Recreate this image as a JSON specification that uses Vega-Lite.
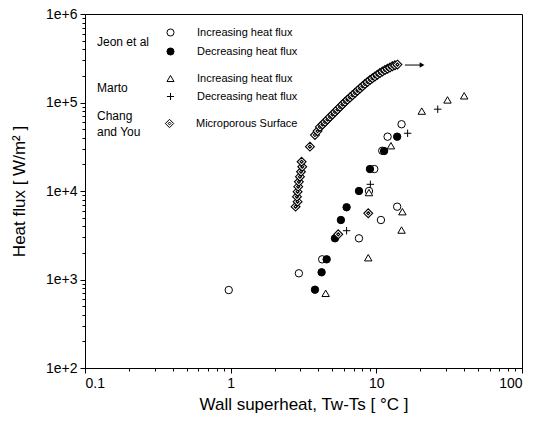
{
  "$schema": "https://vega.github.io/schema/vega-lite/v6.json",
  "width": 437,
  "height": 354,
  "autosize": {"type": "none"},
  "padding": {"left": 85, "top": 14, "right": 15, "bottom": 53},
  "config": {
    "font": "Liberation Sans",
    "view": {"stroke": "black", "strokeWidth": 1},
    "axis": {
      "grid": false,
      "domainColor": "black",
      "tickColor": "black",
      "labelColor": "black",
      "titleColor": "black",
      "labelFont": "Liberation Sans",
      "titleFont": "Liberation Sans",
      "labelFontSize": 14,
      "titleFontSize": 17,
      "titleFontWeight": "normal"
    },
    "legend": {
      "orient": "none",
      "titleOrient": "left",
      "titleAnchor": "middle",
      "titleBaseline": "middle",
      "titleAlign": "left",
      "titleFont": "Liberation Sans",
      "titleFontSize": 12,
      "titleFontWeight": "normal",
      "titleColor": "black",
      "titleLineHeight": 16,
      "labelFont": "Liberation Sans",
      "labelFontSize": 11,
      "labelColor": "black",
      "symbolStrokeColor": "black",
      "symbolStrokeWidth": 1,
      "symbolSize": 50,
      "symbolOpacity": 1,
      "labelOffset": 21,
      "rowPadding": 6,
      "padding": 0
    }
  },
  "datasets": {
    "pts": [
      {"g": "Jeon et al", "s": "Increasing heat flux", "x": 0.97, "y": 760},
      {"g": "Jeon et al", "s": "Increasing heat flux", "x": 2.94, "y": 1175},
      {"g": "Jeon et al", "s": "Increasing heat flux", "x": 4.25, "y": 1690},
      {"g": "Jeon et al", "s": "Increasing heat flux", "x": 7.6, "y": 2920},
      {"g": "Jeon et al", "s": "Increasing heat flux", "x": 10.75, "y": 4700},
      {"g": "Jeon et al", "s": "Increasing heat flux", "x": 13.9, "y": 6650},
      {"g": "Jeon et al", "s": "Increasing heat flux", "x": 8.9, "y": 10000},
      {"g": "Jeon et al", "s": "Increasing heat flux", "x": 9.68, "y": 17700},
      {"g": "Jeon et al", "s": "Increasing heat flux", "x": 10.98, "y": 28500},
      {"g": "Jeon et al", "s": "Increasing heat flux", "x": 11.95, "y": 41100},
      {"g": "Jeon et al", "s": "Increasing heat flux", "x": 14.9, "y": 56800},
      {"g": "Jeon et al", "s": "Decreasing heat flux", "x": 3.79, "y": 767},
      {"g": "Jeon et al", "s": "Decreasing heat flux", "x": 4.21, "y": 1206},
      {"g": "Jeon et al", "s": "Decreasing heat flux", "x": 4.56, "y": 1690},
      {"g": "Jeon et al", "s": "Decreasing heat flux", "x": 5.2, "y": 2920},
      {"g": "Jeon et al", "s": "Decreasing heat flux", "x": 5.71, "y": 4700},
      {"g": "Jeon et al", "s": "Decreasing heat flux", "x": 6.25, "y": 6550},
      {"g": "Jeon et al", "s": "Decreasing heat flux", "x": 7.6, "y": 10000},
      {"g": "Jeon et al", "s": "Decreasing heat flux", "x": 9.04, "y": 17700},
      {"g": "Jeon et al", "s": "Decreasing heat flux", "x": 11.3, "y": 28300},
      {"g": "Jeon et al", "s": "Decreasing heat flux", "x": 13.9, "y": 41100},
      {"g": "Marto", "s": "Increasing heat flux", "x": 4.49, "y": 698},
      {"g": "Marto", "s": "Increasing heat flux", "x": 8.8, "y": 1763},
      {"g": "Marto", "s": "Increasing heat flux", "x": 14.9, "y": 3620},
      {"g": "Marto", "s": "Increasing heat flux", "x": 15.1, "y": 5840},
      {"g": "Marto", "s": "Increasing heat flux", "x": 8.9, "y": 9600},
      {"g": "Marto", "s": "Increasing heat flux", "x": 12.6, "y": 32500},
      {"g": "Marto", "s": "Increasing heat flux", "x": 20.5, "y": 80000},
      {"g": "Marto", "s": "Increasing heat flux", "x": 30.8, "y": 107000},
      {"g": "Marto", "s": "Increasing heat flux", "x": 40.1, "y": 119000},
      {"g": "Marto", "s": "Decreasing heat flux", "x": 6.25, "y": 3560},
      {"g": "Marto", "s": "Decreasing heat flux", "x": 9.1, "y": 11900},
      {"g": "Marto", "s": "Decreasing heat flux", "x": 16.4, "y": 44900},
      {"g": "Marto", "s": "Decreasing heat flux", "x": 26.4, "y": 84000},
      {"g": "Chang and You", "s": "Microporous Surface", "x": 5.48, "y": 3240},
      {"g": "Chang and You", "s": "Microporous Surface", "x": 8.8, "y": 5600},
      {"g": "Chang and You", "s": "Microporous Surface", "x": 2.79, "y": 6650},
      {"g": "Chang and You", "s": "Microporous Surface", "x": 2.88, "y": 7570},
      {"g": "Chang and You", "s": "Microporous Surface", "x": 2.85, "y": 8630},
      {"g": "Chang and You", "s": "Microporous Surface", "x": 2.88, "y": 9820},
      {"g": "Chang and You", "s": "Microporous Surface", "x": 2.91, "y": 11200},
      {"g": "Chang and You", "s": "Microporous Surface", "x": 2.94, "y": 12700},
      {"g": "Chang and You", "s": "Microporous Surface", "x": 2.99, "y": 14500},
      {"g": "Chang and You", "s": "Microporous Surface", "x": 3.04, "y": 16500},
      {"g": "Chang and You", "s": "Microporous Surface", "x": 3.1, "y": 18800},
      {"g": "Chang and You", "s": "Microporous Surface", "x": 3.07, "y": 21400},
      {"g": "Chang and You", "s": "Microporous Surface", "x": 3.5, "y": 31700},
      {"g": "Chang and You", "s": "Microporous Surface", "x": 3.79, "y": 42900},
      {"g": "Chang and You", "s": "Microporous Surface", "x": 3.95, "y": 47500},
      {"g": "Chang and You", "s": "Microporous Surface", "x": 4.1, "y": 52900},
      {"g": "Chang and You", "s": "Microporous Surface", "x": 4.27, "y": 56400},
      {"g": "Chang and You", "s": "Microporous Surface", "x": 4.44, "y": 60200},
      {"g": "Chang and You", "s": "Microporous Surface", "x": 4.62, "y": 64300},
      {"g": "Chang and You", "s": "Microporous Surface", "x": 4.8, "y": 68600},
      {"g": "Chang and You", "s": "Microporous Surface", "x": 5.0, "y": 73200},
      {"g": "Chang and You", "s": "Microporous Surface", "x": 5.2, "y": 78100},
      {"g": "Chang and You", "s": "Microporous Surface", "x": 5.41, "y": 83400},
      {"g": "Chang and You", "s": "Microporous Surface", "x": 5.63, "y": 89000},
      {"g": "Chang and You", "s": "Microporous Surface", "x": 5.85, "y": 94900},
      {"g": "Chang and You", "s": "Microporous Surface", "x": 6.09, "y": 101300},
      {"g": "Chang and You", "s": "Microporous Surface", "x": 6.33, "y": 107400},
      {"g": "Chang and You", "s": "Microporous Surface", "x": 6.59, "y": 113900},
      {"g": "Chang and You", "s": "Microporous Surface", "x": 6.85, "y": 120800},
      {"g": "Chang and You", "s": "Microporous Surface", "x": 7.13, "y": 128000},
      {"g": "Chang and You", "s": "Microporous Surface", "x": 7.42, "y": 135800},
      {"g": "Chang and You", "s": "Microporous Surface", "x": 7.72, "y": 144000},
      {"g": "Chang and You", "s": "Microporous Surface", "x": 8.03, "y": 152600},
      {"g": "Chang and You", "s": "Microporous Surface", "x": 8.35, "y": 161800},
      {"g": "Chang and You", "s": "Microporous Surface", "x": 8.69, "y": 170500},
      {"g": "Chang and You", "s": "Microporous Surface", "x": 9.04, "y": 179600},
      {"g": "Chang and You", "s": "Microporous Surface", "x": 9.4, "y": 187900},
      {"g": "Chang and You", "s": "Microporous Surface", "x": 9.78, "y": 196700},
      {"g": "Chang and You", "s": "Microporous Surface", "x": 10.17, "y": 205900},
      {"g": "Chang and You", "s": "Microporous Surface", "x": 10.58, "y": 215400},
      {"g": "Chang and You", "s": "Microporous Surface", "x": 11.01, "y": 224000},
      {"g": "Chang and You", "s": "Microporous Surface", "x": 11.46, "y": 232900},
      {"g": "Chang and You", "s": "Microporous Surface", "x": 11.92, "y": 240600},
      {"g": "Chang and You", "s": "Microporous Surface", "x": 12.4, "y": 248600},
      {"g": "Chang and You", "s": "Microporous Surface", "x": 12.9, "y": 256800},
      {"g": "Chang and You", "s": "Microporous Surface", "x": 13.42, "y": 263600},
      {"g": "Chang and You", "s": "Microporous Surface", "x": 13.96, "y": 268100}
    ],
    "arrowLine": [{"x": 15.7, "x2": 20.2, "y": 265000}],
    "arrowHead": [{"x": 20.6, "y": 265000}]
  },
  "layer": [
    {
      "data": {"name": "pts"},
      "transform": [{"filter": "datum.g === 'Jeon et al'"}],
      "mark": {"type": "point", "filled": true, "stroke": "black", "strokeWidth": 1, "size": 55, "opacity": 1},
      "encoding": {
        "x": {
          "field": "x", "type": "quantitative",
          "scale": {"type": "log", "domain": [0.1, 100], "nice": false},
          "axis": {"values": [0.1, 1, 10, 100], "format": "~g", "tickSize": 5, "labelPadding": 3, "title": "Wall superheat, Tw-Ts [ °C ]", "titlePadding": 6}
        },
        "y": {
          "field": "y", "type": "quantitative",
          "scale": {"type": "log", "domain": [100, 1000000], "nice": false},
          "axis": {"values": [100, 1000, 10000, 100000, 1000000], "labelExpr": "'1e+' + round(log(datum.value) / LN10)", "tickSize": 5, "labelPadding": 3, "title": "Heat flux [ W/m² ]", "titlePadding": 17}
        },
        "shape": {
          "field": "s", "type": "nominal",
          "scale": {"domain": ["Increasing heat flux", "Decreasing heat flux"], "range": ["circle", "circle"]},
          "legend": {"title": "Jeon et al", "legendX": 12, "legendY": 13, "titlePadding": 15,
            "encode": {"symbols": {"update": {"stroke": {"value": "black"}, "strokeWidth": {"value": 1}, "opacity": {"value": 1}}}}}
        },
        "fill": {
          "field": "s", "type": "nominal",
          "scale": {"domain": ["Increasing heat flux", "Decreasing heat flux"], "range": ["white", "black"]},
          "legend": {"title": "Jeon et al", "legendX": 12, "legendY": 13, "titlePadding": 15,
            "encode": {"symbols": {"update": {"stroke": {"value": "black"}, "strokeWidth": {"value": 1}, "opacity": {"value": 1}}}}}
        }
      }
    },
    {
      "data": {"name": "pts"},
      "transform": [{"filter": "datum.g === 'Marto'"}],
      "mark": {"type": "point", "filled": true, "stroke": "black", "strokeWidth": 1, "size": 55, "opacity": 1},
      "encoding": {
        "x": {"field": "x", "type": "quantitative", "scale": {"type": "log", "domain": [0.1, 100], "nice": false}, "axis": null},
        "y": {"field": "y", "type": "quantitative", "scale": {"type": "log", "domain": [100, 1000000], "nice": false}, "axis": null},
        "shape": {
          "field": "s", "type": "nominal",
          "scale": {"domain": ["Increasing heat flux", "Decreasing heat flux"], "range": ["triangle-up", "M-1,0H1M0,-1V1"]},
          "legend": {"title": "Marto", "legendX": 12, "legendY": 59, "titlePadding": 37,
            "encode": {"symbols": {"update": {"stroke": {"value": "black"}, "strokeWidth": {"value": 1}, "opacity": {"value": 1}}}}}
        },
        "fill": {
          "field": "s", "type": "nominal",
          "scale": {"domain": ["Increasing heat flux", "Decreasing heat flux"], "range": ["white", "white"]},
          "legend": {"title": "Marto", "legendX": 12, "legendY": 59, "titlePadding": 37,
            "encode": {"symbols": {"update": {"stroke": {"value": "black"}, "strokeWidth": {"value": 1}, "opacity": {"value": 1}}}}}
        }
      }
    },
    {
      "data": {"name": "pts"},
      "transform": [{"filter": "datum.g === 'Chang and You'"}],
      "mark": {"type": "point", "filled": true, "stroke": "black", "strokeWidth": 1.1, "size": 78, "opacity": 1},
      "encoding": {
        "x": {"field": "x", "type": "quantitative", "scale": {"type": "log", "domain": [0.1, 100], "nice": false}, "axis": null},
        "y": {"field": "y", "type": "quantitative", "scale": {"type": "log", "domain": [100, 1000000], "nice": false}, "axis": null},
        "shape": {
          "field": "s", "type": "nominal",
          "scale": {"domain": ["Microporous Surface"], "range": ["M0,-1L1,0L0,1L-1,0ZM0,-0.35L0.35,0L0,0.35L-0.35,0Z"]},
          "legend": {"title": ["Chang", "and You"], "legendX": 12, "legendY": 104, "titlePadding": 23,
            "encode": {"symbols": {"update": {"stroke": {"value": "black"}, "strokeWidth": {"value": 1}, "opacity": {"value": 1}, "size": {"value": 70}}}}}
        },
        "fill": {
          "field": "s", "type": "nominal",
          "scale": {"domain": ["Microporous Surface"], "range": ["white"]},
          "legend": {"title": ["Chang", "and You"], "legendX": 12, "legendY": 104, "titlePadding": 23,
            "encode": {"symbols": {"update": {"stroke": {"value": "black"}, "strokeWidth": {"value": 1}, "opacity": {"value": 1}, "size": {"value": 70}}}}}
        }
      }
    },
    {
      "data": {"name": "arrowLine"},
      "mark": {"type": "rule", "color": "black", "strokeWidth": 1},
      "encoding": {
        "x": {
          "field": "x", "type": "quantitative",
          "scale": {"type": "log", "domain": [0.1, 100], "nice": false},
          "axis": {"orient": "bottom", "values": [0.2, 0.3, 0.4, 0.5, 0.6, 0.7, 0.8, 0.9, 2, 3, 4, 5, 6, 7, 8, 9, 20, 30, 40, 50, 60, 70, 80, 90], "labels": false, "domain": false, "tickSize": 3, "title": null}
        },
        "x2": {"field": "x2"},
        "y": {
          "field": "y", "type": "quantitative",
          "scale": {"type": "log", "domain": [100, 1000000], "nice": false},
          "axis": {"orient": "left", "values": [200, 300, 400, 500, 600, 700, 800, 900, 2000, 3000, 4000, 5000, 6000, 7000, 8000, 9000, 20000, 30000, 40000, 50000, 60000, 70000, 80000, 90000, 200000, 300000, 400000, 500000, 600000, 700000, 800000, 900000], "labels": false, "domain": false, "tickSize": 3, "title": null}
        }
      }
    },
    {
      "data": {"name": "arrowHead"},
      "mark": {"type": "point", "shape": "triangle-right", "filled": true, "color": "black", "size": 30, "opacity": 1},
      "encoding": {
        "x": {"field": "x", "type": "quantitative", "scale": {"type": "log", "domain": [0.1, 100], "nice": false}, "axis": null},
        "y": {"field": "y", "type": "quantitative", "scale": {"type": "log", "domain": [100, 1000000], "nice": false}, "axis": null}
      }
    }
  ],
  "resolve": {
    "scale": {"shape": "independent", "fill": "independent"},
    "legend": {"shape": "independent", "fill": "independent"},
    "axis": {"x": "independent", "y": "independent"}
  }
}
